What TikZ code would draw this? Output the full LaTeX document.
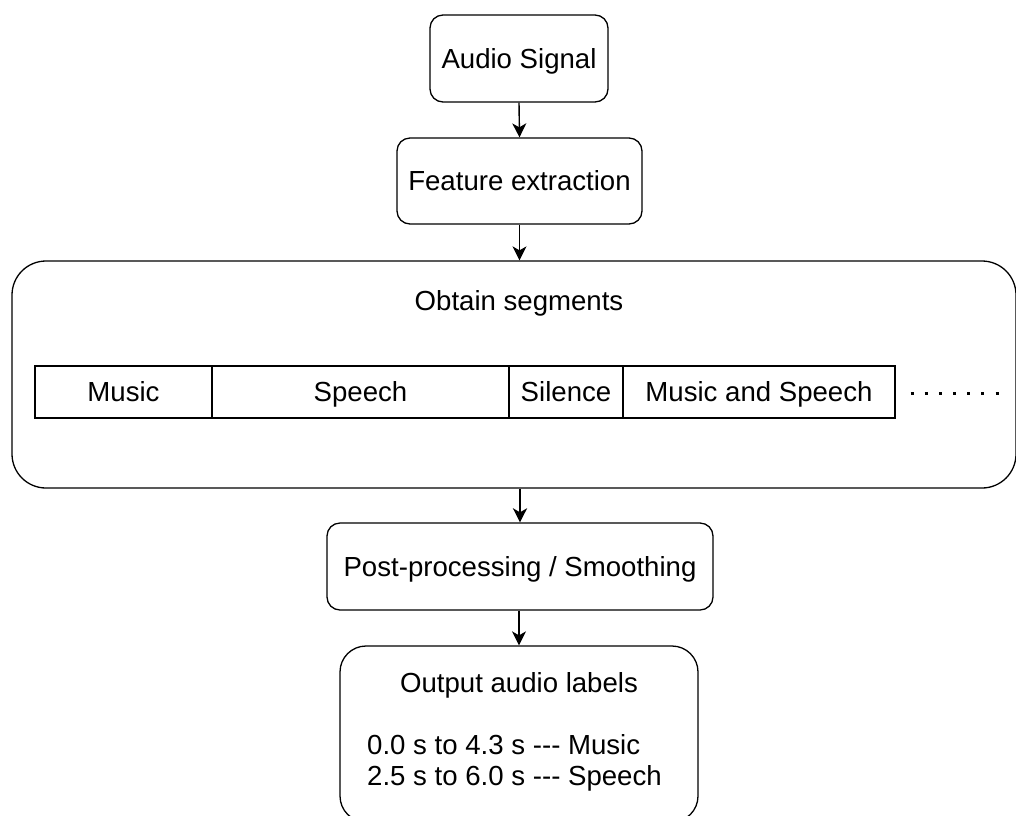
\documentclass[tikz,border=0pt]{standalone}
\usepackage{fontspec}
\setmainfont{Liberation Sans}[Ligatures=TeXOff]
\usetikzlibrary{arrows.meta}
\begin{document}
\begin{tikzpicture}[x=1pt,y=-1pt,
  every node/.style={font=\fontsize{27.6}{32}\selectfont, inner sep=0pt, text height=19.8pt, text depth=0pt},
  box/.style={draw, line width=1.3pt, rounded corners=#1},
  box/.default=13pt,
  cell/.style={draw, line width=1.3pt, minimum height=52pt},
  arr/.style={-{Stealth[length=14pt,width=14pt,inset=4pt]}, line width=1.4pt},
  dotline/.style={line width=3pt, line cap=butt, dash pattern=on 3pt off 11.17pt}
]
\useasboundingbox (0,0) rectangle (1016,815);
\clip (0,0) rectangle (1016,815);
% boxes
\node[box, minimum width=178pt, minimum height=87pt] (audio) at (519,58.5) {Audio Signal};
\node[box, minimum width=245pt, minimum height=86pt] (feat) at (519.5,181) {Feature extraction};
\node[box=34pt, minimum width=1004pt, minimum height=227pt] (seg) at (514,374.5) {};
\node (segt) at (519,301) {Obtain segments};
\node[cell, minimum width=177pt] (c1) at (123.5,392) {Music};
\node[cell, minimum width=297pt] (c2) at (360.5,392) {Speech};
\node[cell, minimum width=114pt] (c3) at (566,392) {Silence};
\node[cell, minimum width=272pt] (c4) at (759,392) {Music and Speech};
\coordinate (d1) at (910.5,393);
\coordinate (d2) at (998.5,393);
\draw[dotline] (d1) -- (d2);
\node[box, minimum width=386pt, minimum height=87pt] (post) at (520,566.5) {Post-processing / Smoothing};
\node[box=26pt, minimum width=358pt, minimum height=176pt] (out) at (519,734) {};
\node (outt) at (519,683) {Output audio labels};
\node[anchor=west] (l1) at (367,744.5) {0.0 s to 4.3 s --- Music};
\node[anchor=west] (l2) at (367,776) {2.5 s to 6.0 s --- Speech};
% arrows
\draw[arr] (audio.south) -- (feat.north);
\draw[arr] (feat.south) -- (seg.north -| feat.south);
\draw[arr, line width=2.6pt] (seg.south -| post.north) -- (post.north);
\draw[arr] (post.south -| out.north) -- (out.north);
\end{tikzpicture}
\end{document}
